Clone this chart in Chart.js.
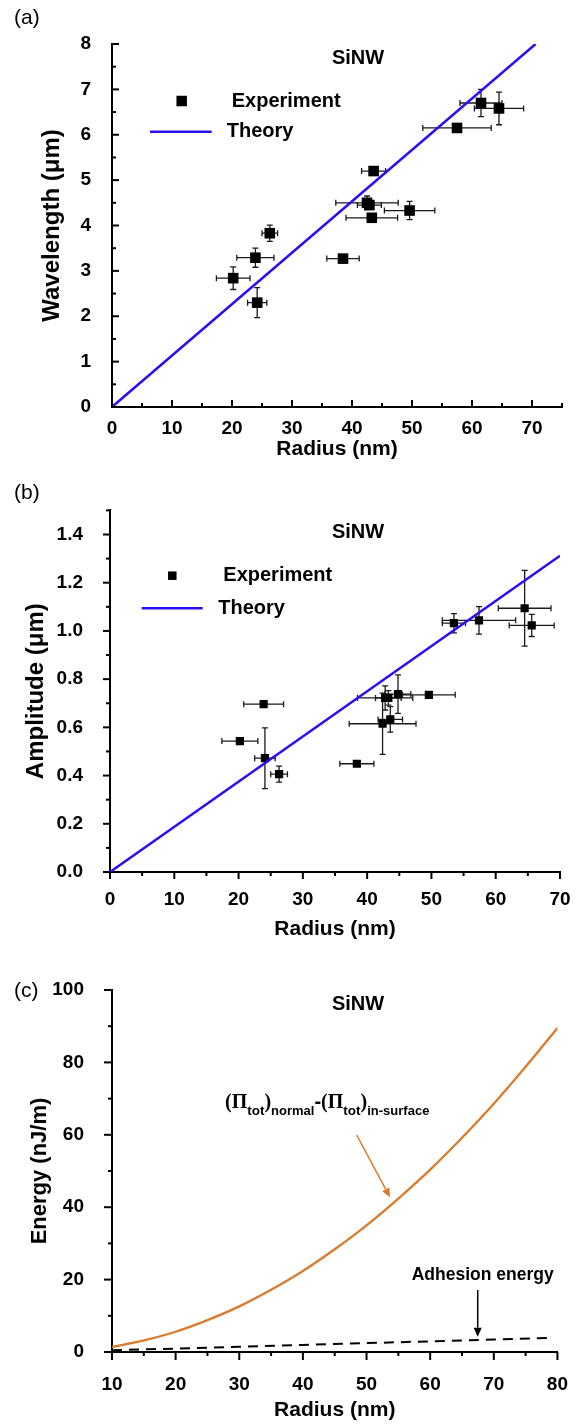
<!DOCTYPE html>
<html><head><meta charset="utf-8">
<script src="https://cdn.jsdelivr.net/npm/chart.js@4.4.1/dist/chart.umd.min.js"></script>
<style>
html,body{margin:0;padding:0;background:#fff;}
body{width:581px;height:1425px;position:relative;overflow:hidden;}
canvas{position:absolute;left:0;}
</style></head><body>
<canvas id="ca" width="581" height="480" style="top:0px"></canvas>
<canvas id="cb" width="581" height="470" style="top:480px"></canvas>
<canvas id="cc" width="581" height="475" style="top:950px"></canvas>
<script>
// ---------- Panel (a): wavelength vs radius ----------
const radiusA      = [61.5, 64.5, 57.5, 43.6, 42.5, 42.9, 43.3, 49.6, 26.3, 23.9, 38.5, 20.2, 24.2];
const wavelengthA  = [6.70, 6.58, 6.15, 5.20, 4.50, 4.45, 4.17, 4.33, 3.83, 3.29, 3.27, 2.84, 2.30];
const radiusErrA   = [3.5, 4.1, 5.7, 2.0, 5.2, 2.0, 4.3, 4.2, 1.3, 3.1, 2.7, 2.8, 1.6];
const waveErrA     = [0.30, 0.36, 0, 0, 0.15, 0, 0, 0.20, 0.18, 0.21, 0, 0.25, 0.33];
const theoryRadiusA = [0, 70.6];
const theoryWaveA   = [0, 8];
const xTicksA = [0, 10, 20, 30, 40, 50, 60, 70];
const xMinorA = [5, 15, 25, 35, 45, 55, 65, 75];
const yTicksA = [0, 1, 2, 3, 4, 5, 6, 7, 8];
const yMinorA = [0.5, 1.5, 2.5, 3.5, 4.5, 5.5, 6.5, 7.5];

// ---------- Panel (b): amplitude vs radius ----------
const radiusB     = [64.5, 65.6, 57.4, 53.5, 49.6, 44.8, 42.8, 43.3, 43.6, 42.4, 38.4, 23.9, 20.2, 24.1, 26.3];
const amplitudeB  = [1.094, 1.023, 1.044, 1.032, 0.735, 0.738, 0.722, 0.722, 0.633, 0.615, 0.449, 0.696, 0.543, 0.472, 0.406];
const radiusErrB  = [4.1, 3.5, 5.7, 1.8, 4.1, 2.0, 4.3, 2.0, 1.9, 5.2, 2.65, 3.1, 2.8, 1.6, 1.3];
const ampErrB     = [0.157, 0.046, 0.057, 0.04, 0, 0.08, 0.05, 0.03, 0.053, 0.127, 0, 0, 0, 0.126, 0.033];
const theoryRadiusB = [0, 70];
const theoryAmpB    = [0, 1.312];
const xTicksB = [0, 10, 20, 30, 40, 50, 60, 70];
const xMinorB = [5, 15, 25, 35, 45, 55, 65];
const yTicksB = [0, 0.2, 0.4, 0.6, 0.8, 1.0, 1.2, 1.4];
const yMinorB = [0.1, 0.3, 0.5, 0.7, 0.9, 1.1, 1.3, 1.5];

// ---------- Panel (c): energy vs radius ----------
const radiusC   = [10, 15, 20, 25, 30, 35, 40, 45, 50, 55, 60, 65, 70, 75, 80];
const energyPi  = [1.4, 3.2, 5.6, 8.8, 12.6, 17.2, 22.4, 28.4, 35.0, 42.4, 50.4, 59.2, 68.6, 78.8, 89.5];
const radiusAdh = [10, 20, 30, 40, 50, 60, 70, 79];
const energyAdh = [0.5, 0.95, 1.45, 1.95, 2.45, 2.95, 3.45, 3.9];
const xTicksC = [10, 20, 30, 40, 50, 60, 70, 80];
const xMinorC = [15, 25, 35, 45, 55, 65, 75];
const yTicksC = [0, 20, 40, 60, 80, 100];
const yMinorC = [10, 30, 50, 70, 90];

const FAM = '"Liberation Sans", Arial, Helvetica, sans-serif';
const SERIF = '"Liberation Serif", "Times New Roman", serif';
const BLUE = '#2a0ff0';
const ORANGE = '#dc7a2c';

function pts(xs, ys) { return xs.map((x, i) => ({ x: x, y: ys[i] })); }

function tickMarks(o) {
  return {
    id: 'tickmarks',
    afterDraw(chart) {
      const ctx = chart.ctx, sx = chart.scales.x, sy = chart.scales.y, a = chart.chartArea;
      const d = o.inward ? -1 : 1;
      ctx.save();
      ctx.strokeStyle = '#000';
      ctx.lineWidth = 2;
      const draw = (vals, len, horiz) => {
        vals.forEach(v => {
          ctx.beginPath();
          if (horiz) {
            const p = sx.getPixelForValue(v);
            ctx.moveTo(p, a.bottom); ctx.lineTo(p, a.bottom + d * len);
          } else {
            const p = sy.getPixelForValue(v);
            ctx.moveTo(a.left, p); ctx.lineTo(a.left - d * len, p);
          }
          ctx.stroke();
        });
      };
      draw(o.xMajor, o.maj, true); draw(o.xMinor, o.min, true);
      draw(o.yMajor, o.maj, false); draw(o.yMinor, o.min, false);
      ctx.restore();
    }
  };
}

function errorBars(xs, ys, xe, ye, cap) {
  return {
    id: 'errorbars',
    beforeDatasetsDraw(chart) {
      const ctx = chart.ctx, sx = chart.scales.x, sy = chart.scales.y;
      ctx.save();
      ctx.strokeStyle = '#1a1a1a';
      ctx.lineWidth = 1.3;
      for (let i = 0; i < xs.length; i++) {
        const px = sx.getPixelForValue(xs[i]), py = sy.getPixelForValue(ys[i]);
        ctx.beginPath();
        if (xe[i] > 0) {
          const l = sx.getPixelForValue(xs[i] - xe[i]), r = sx.getPixelForValue(xs[i] + xe[i]);
          ctx.moveTo(l, py); ctx.lineTo(r, py);
          ctx.moveTo(l, py - cap); ctx.lineTo(l, py + cap);
          ctx.moveTo(r, py - cap); ctx.lineTo(r, py + cap);
        }
        if (ye[i] > 0) {
          const t = sy.getPixelForValue(ys[i] + ye[i]), b = sy.getPixelForValue(ys[i] - ye[i]);
          ctx.moveTo(px, t); ctx.lineTo(px, b);
          ctx.moveTo(px - cap, t); ctx.lineTo(px + cap, t);
          ctx.moveTo(px - cap, b); ctx.lineTo(px + cap, b);
        }
        ctx.stroke();
      }
      ctx.restore();
    }
  };
}

function textDecor(items) {
  return {
    id: 'decor',
    afterDraw(chart) {
      const ctx = chart.ctx;
      ctx.save();
      items.forEach(it => {
        if (it.kind === 'text') {
          ctx.font = it.font; ctx.fillStyle = it.color || '#000';
          ctx.textAlign = it.align || 'left'; ctx.textBaseline = it.baseline || 'middle';
          ctx.fillText(it.text, it.x, it.y);
        } else if (it.kind === 'rect') {
          ctx.fillStyle = '#000';
          ctx.fillRect(it.x - it.s / 2, it.y - it.s / 2, it.s, it.s);
        } else if (it.kind === 'line') {
          ctx.strokeStyle = it.color; ctx.lineWidth = it.w;
          ctx.beginPath(); ctx.moveTo(it.x1, it.y1); ctx.lineTo(it.x2, it.y2); ctx.stroke();
        } else if (it.kind === 'arrow') {
          ctx.strokeStyle = it.color; ctx.fillStyle = it.color; ctx.lineWidth = it.w;
          const ang = Math.atan2(it.y2 - it.y1, it.x2 - it.x1), hl = it.head, hw = it.head * 0.45;
          const bx = it.x2 - hl * Math.cos(ang), by = it.y2 - hl * Math.sin(ang);
          ctx.beginPath(); ctx.moveTo(it.x1, it.y1); ctx.lineTo(bx, by); ctx.stroke();
          ctx.beginPath(); ctx.moveTo(it.x2, it.y2);
          ctx.lineTo(bx + hw * Math.sin(ang), by - hw * Math.cos(ang));
          ctx.lineTo(bx - hw * Math.sin(ang), by + hw * Math.cos(ang));
          ctx.closePath(); ctx.fill();
        } else if (it.kind === 'rich') {
          let x = it.x;
          ctx.textAlign = 'left'; ctx.textBaseline = 'alphabetic'; ctx.fillStyle = '#000';
          it.parts.forEach(p => {
            ctx.font = p[1];
            ctx.fillText(p[0], x, it.y + p[2]);
            x += ctx.measureText(p[0]).width;
          });
        }
      });
      ctx.restore();
    }
  };
}

function scaleOpts(o) {
  return {
    type: 'linear', min: o.min, max: o.max, position: o.position,
    grid: { display: false },
    border: { display: true, color: '#000', width: 2 },
    afterBuildTicks: s => { s.ticks = o.ticks.map(v => ({ value: v })); },
    afterFit: s => { if (o.position === 'left') s.width = o.size; else s.height = o.size; },
    ticks: {
      padding: o.pad, color: '#000',
      font: { family: FAM, size: 19, weight: 'bold' },
      callback: v => o.fmt ? o.fmt(v) : String(v)
    },
    title: {
      display: true, text: o.title, color: '#000',
      font: { family: FAM, size: o.titleSize || 21, weight: 'bold' },
      padding: o.titlePad
    }
  };
}

function baseOptions(pad, xo, yo) {
  return {
    responsive: false, animation: false, devicePixelRatio: 1,
    layout: { padding: pad },
    plugins: { legend: { display: false }, tooltip: { enabled: false } },
    scales: { x: scaleOpts(xo), y: scaleOpts(yo) }
  };
}

// ---------- Chart (a) ----------
new Chart(document.getElementById('ca'), {
  type: 'scatter',
  data: { datasets: [
    { label: 'Theory', type: 'line', data: pts(theoryRadiusA, theoryWaveA), borderColor: BLUE, borderWidth: 2.5, pointRadius: 0, fill: false },
    { label: 'Experiment', data: pts(radiusA, wavelengthA), pointStyle: 'rect', pointRadius: 7.5, backgroundColor: '#000', borderColor: '#000', borderWidth: 0 }
  ] },
  options: baseOptions({ top: 44, right: 19, left: 0, bottom: 0 },
    { min: 0, max: 75, position: 'bottom', ticks: xTicksA, size: 73, pad: 2, title: 'Radius (nm)', titlePad: { top: 0, bottom: 18 } },
    { min: 0, max: 8, position: 'left', ticks: yTicksA, size: 112, pad: 13, title: 'Wavelength (\u03BCm)', titleSize: 24, titlePad: { top: 38, bottom: 0 } }),
  plugins: [
    errorBars(radiusA, wavelengthA, radiusErrA, waveErrA, 3),
    tickMarks({ inward: true, maj: 7, min: 4, xMajor: xTicksA, xMinor: xMinorA, yMajor: yTicksA, yMinor: yMinorA }),
    textDecor([
      { kind: 'text', text: '(a)', x: 14, y: 18, font: '21px ' + FAM },
      { kind: 'text', text: 'SiNW', x: 358, y: 58, font: 'bold 20px ' + FAM, align: 'center' },
      { kind: 'rect', x: 181.7, y: 101, s: 10.5 },
      { kind: 'text', text: 'Experiment', x: 231.7, y: 101, font: 'bold 20px ' + FAM },
      { kind: 'line', x1: 150, y1: 131.7, x2: 211.7, y2: 131.7, color: BLUE, w: 2.5 },
      { kind: 'text', text: 'Theory', x: 226.7, y: 131, font: 'bold 20px ' + FAM }
    ])
  ]
});

// ---------- Chart (b) ----------
new Chart(document.getElementById('cb'), {
  type: 'scatter',
  data: { datasets: [
    { label: 'Theory', type: 'line', data: pts(theoryRadiusB, theoryAmpB), borderColor: BLUE, borderWidth: 2.5, pointRadius: 0, fill: false },
    { label: 'Experiment', data: pts(radiusB, amplitudeB), pointStyle: 'rect', pointRadius: 5.8, backgroundColor: '#000', borderColor: '#000', borderWidth: 0 }
  ] },
  options: baseOptions({ top: 29, right: 21, left: 0, bottom: 0 },
    { min: 0, max: 70, position: 'bottom', ticks: xTicksB, size: 78, pad: 8, title: 'Radius (nm)', titlePad: { top: 0, bottom: 8 } },
    { min: 0, max: 1.5, position: 'left', ticks: yTicksB, size: 110, pad: 19, fmt: v => v.toFixed(1), title: 'Amplitude (\u03BCm)', titleSize: 24, titlePad: { top: 21.5, bottom: 0 } }),
  plugins: [
    errorBars(radiusB, amplitudeB, radiusErrB, ampErrB, 3),
    tickMarks({ inward: false, maj: 7, min: 4, xMajor: xTicksB, xMinor: xMinorB, yMajor: yTicksB, yMinor: yMinorB }),
    textDecor([
      { kind: 'text', text: '(b)', x: 14, y: 13, font: '21px ' + FAM },
      { kind: 'text', text: 'SiNW', x: 358, y: 52.5, font: 'bold 20px ' + FAM, align: 'center' },
      { kind: 'rect', x: 172.3, y: 95.7, s: 8.5 },
      { kind: 'text', text: 'Experiment', x: 223.3, y: 95.7, font: 'bold 20px ' + FAM },
      { kind: 'line', x1: 141.7, y1: 128.3, x2: 202.7, y2: 128.3, color: BLUE, w: 2.5 },
      { kind: 'text', text: 'Theory', x: 218.3, y: 128.3, font: 'bold 20px ' + FAM }
    ])
  ]
});

// ---------- Chart (c) ----------
new Chart(document.getElementById('cc'), {
  type: 'line',
  data: { datasets: [
    { label: '(\u03A0tot)normal-(\u03A0tot)in-surface', data: pts(radiusC, energyPi), borderColor: ORANGE, borderWidth: 2.3, pointRadius: 0, cubicInterpolationMode: 'monotone', fill: false },
    { label: 'Adhesion energy', data: pts(radiusAdh, energyAdh), borderColor: '#000', borderWidth: 2, borderDash: [10, 7], pointRadius: 0, fill: false }
  ] },
  options: baseOptions({ top: 40, right: 21, left: 0, bottom: 0 },
    { min: 10, max: 80, position: 'bottom', ticks: xTicksC, size: 73, pad: 13, title: 'Radius (nm)', titlePad: { top: 0, bottom: 2.5 } },
    { min: 0, max: 100, position: 'left', ticks: yTicksC, size: 112, pad: 20, title: 'Energy (nJ/m)', titleSize: 22, titlePad: { top: 26.5, bottom: 0 } }),
  plugins: [
    tickMarks({ inward: false, maj: 8, min: 4, xMajor: xTicksC, xMinor: xMinorC, yMajor: yTicksC, yMinor: yMinorC }),
    textDecor([
      { kind: 'text', text: '(c)', x: 14, y: 41, font: '21px ' + FAM },
      { kind: 'text', text: 'SiNW', x: 358, y: 54.7, font: 'bold 20px ' + FAM, align: 'center' },
      { kind: 'rich', x: 225, y: 158.3, parts: [
        ['(\u03A0', 'bold 20px ' + SERIF, 0],
        ['tot', 'bold 13.5px ' + FAM, 6.5],
        [')', 'bold 20px ' + SERIF, 0],
        ['normal', 'bold 13px ' + FAM, 6.5],
        ['-', 'bold 20px ' + FAM, 0],
        ['(\u03A0', 'bold 20px ' + SERIF, 0],
        ['tot', 'bold 13.5px ' + FAM, 6.5],
        [')', 'bold 20px ' + SERIF, 0],
        ['in-surface', 'bold 13px ' + FAM, 6.5]
      ] },
      { kind: 'arrow', x1: 356.7, y1: 185, x2: 390, y2: 247.3, color: ORANGE, w: 1.5, head: 9 },
      { kind: 'text', text: 'Adhesion energy', x: 411.7, y: 325.5, font: 'bold 17.5px ' + FAM },
      { kind: 'arrow', x1: 477.7, y1: 340, x2: 477.7, y2: 386.7, color: '#000', w: 1.5, head: 9 }
    ])
  ]
});
</script>
</body></html>
